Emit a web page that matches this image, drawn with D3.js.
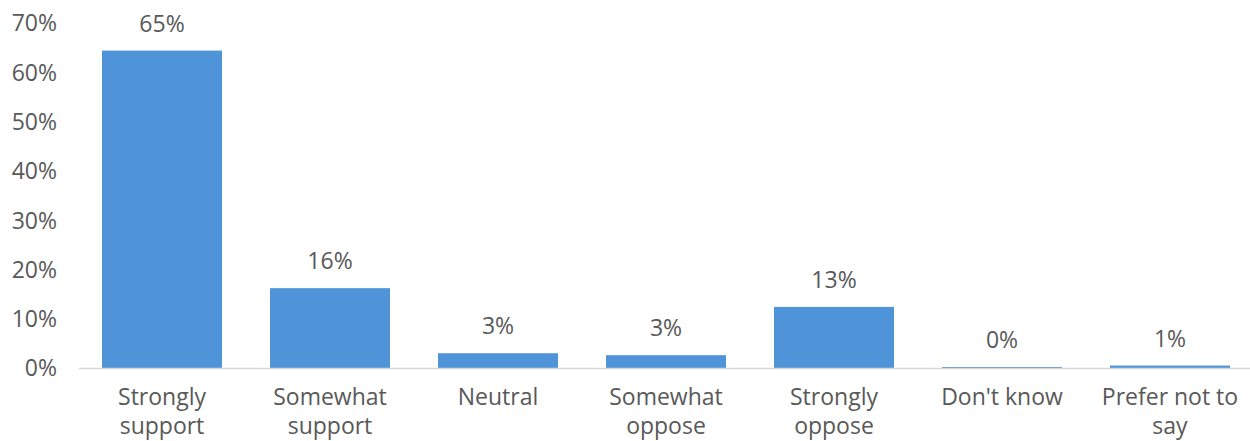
<!DOCTYPE html>
<html>
<head>
<meta charset="utf-8">
<script src="https://cdn.jsdelivr.net/npm/d3@7"></script>
<style>
  html, body { margin: 0; padding: 0; background: #fff; }
  svg text { font-family: "Open Sans", sans-serif; fill: #595959; }
</style>
</head>
<body>
<svg id="chart" width="1250" height="441"></svg>
<script>
const categories = [["Strongly", "support"], ["Somewhat", "support"], ["Neutral"], ["Somewhat", "oppose"], ["Strongly", "oppose"], ["Don't know"], ["Prefer not to", "say"]];
const values = [64.5, 16.3, 3.1, 2.7, 12.5, 0.3, 0.6];
const yTicks = [0, 10, 20, 30, 40, 50, 60, 70];

const svg = d3.select("#chart");
const fontSize = 23;

const x = d3.scaleBand()
  .domain(d3.range(categories.length))
  .range([78, 1254])
  .paddingInner(0.2857)
  .paddingOuter(0.1429);

const y = d3.scaleLinear().domain([0, 70]).range([368.5, 23.5]);

// y axis labels
const yAxis = d3.axisLeft(y).tickValues(yTicks).tickFormat(d => d + "%").tickSize(0).tickPadding(0);
const yg = svg.append("g").attr("transform", "translate(57,0)").call(yAxis);
yg.select(".domain").remove();
yg.selectAll("text").style("font-size", fontSize + "px").attr("fill", "#595959")
  .style("font-family", '"Open Sans", sans-serif');

// bars
svg.append("g").selectAll("rect").data(values).join("rect")
  .attr("x", (d, i) => x(i))
  .attr("width", x.bandwidth())
  .attr("y", d => y(d))
  .attr("height", d => y(0) - y(d))
  .attr("fill", "#4f94d9");

// baseline
svg.append("line")
  .attr("x1", 79).attr("x2", 1250)
  .attr("y1", y(0)).attr("y2", y(0))
  .attr("stroke", "#d9d9d9").attr("stroke-width", 1.5);

// value labels
svg.append("g").selectAll("text").data(values).join("text")
  .attr("x", (d, i) => x(i) + x.bandwidth() / 2)
  .attr("y", d => y(d) - 19)
  .attr("text-anchor", "middle")
  .style("font-size", fontSize + "px")
  .text(d => Math.round(d) + "%");

// category labels
const cg = svg.append("g").selectAll("text").data(categories).join("text")
  .attr("x", (d, i) => x(i) + x.bandwidth() / 2)
  .attr("y", 405)
  .attr("text-anchor", "middle")
  .style("font-size", fontSize + "px");
cg.selectAll("tspan").data(d => d).join("tspan")
  .attr("x", function() { return d3.select(this.parentNode).attr("x"); })
  .attr("dy", (d, i) => i === 0 ? 0 : 29)
  .text(d => d);
</script>
</body>
</html>
